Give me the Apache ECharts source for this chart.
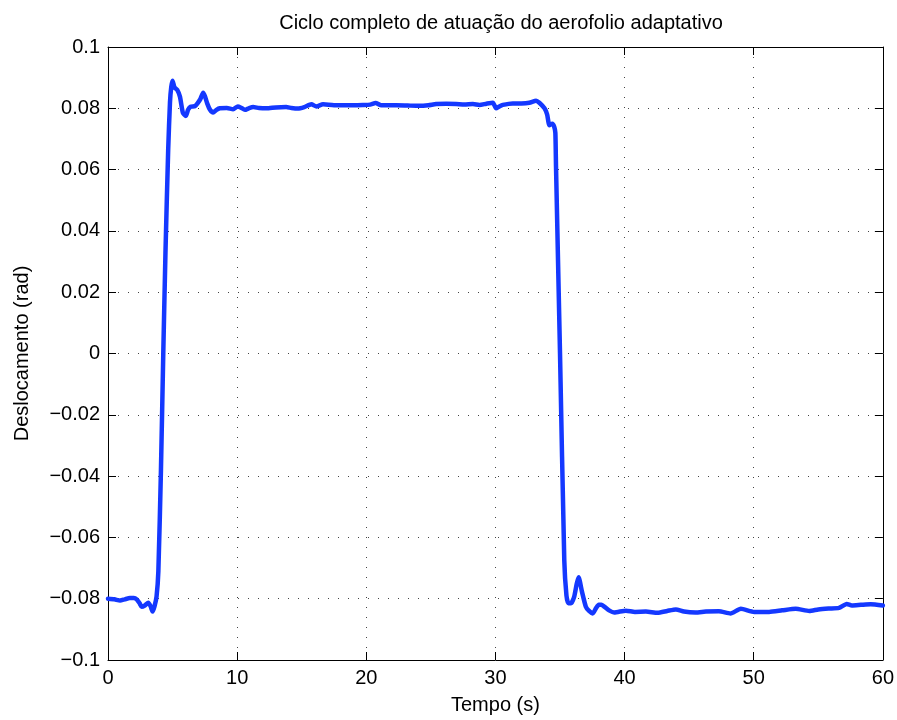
<!DOCTYPE html>
<html>
<head>
<meta charset="utf-8">
<script src="https://cdn.jsdelivr.net/npm/echarts@6/dist/echarts.min.js"></script>
<style>html,body{margin:0;padding:0;background:#fff}#c{width:897px;height:720px}</style>
</head>
<body>
<div id="c"></div>
<script>
const titleText = 'Ciclo completo de atuação do aerofolio adaptativo';
const xLabel = 'Tempo (s)';
const yLabel = 'Deslocamento (rad)';
const xTicks = [0, 10, 20, 30, 40, 50, 60];
const yTicks = [-0.1, -0.08, -0.06, -0.04, -0.02, 0, 0.02, 0.04, 0.06, 0.08, 0.1];

const time = [0, 0.5, 0.93, 1.3, 1.7, 2.0, 2.22, 2.45, 2.6, 2.85, 3.12, 3.3, 3.45, 3.6, 3.76, 3.9, 4.1, 4.28, 4.45, 4.66, 4.8, 4.9, 5.0, 5.15, 5.36, 5.57, 5.8, 6.03, 6.2, 6.39, 6.73, 6.93, 7.15, 7.37, 7.5, 7.68, 7.9, 8.14, 8.4, 8.66, 9.2, 9.69, 10.05, 10.3, 10.6, 10.9, 11.24, 11.7, 12.27, 13.0, 13.8, 14.2, 14.7, 15.2, 15.75, 16.14, 16.65, 17.5, 18.45, 19.74, 20.3, 20.72, 21.16, 22.32, 23.2, 24.1, 24.8, 25.41, 26.2, 26.96, 27.6, 28.25, 28.76, 29.3, 29.8, 30.05, 30.3, 30.57, 31.34, 32.0, 32.63, 33.15, 33.4, 33.8, 34.0, 34.18, 34.4, 34.55, 34.64, 34.69, 35.0, 35.33, 35.5, 35.65, 35.85, 36.1, 36.3, 36.44, 36.7, 37.0, 37.25, 37.53, 37.8, 38.0, 38.2, 38.43, 38.8, 39.2, 40.1, 40.8, 41.65, 42.55, 43.3, 43.97, 44.6, 45.5, 46.3, 47.3, 48.2, 49.0, 50.03, 51.19, 52.2, 53.25, 54.3, 55.0, 55.8, 56.6, 57.2, 57.6, 58.3, 59.05, 60];
const displacement = [-0.0800, -0.0802, -0.0806, -0.0802, -0.0798, -0.0798, -0.0802, -0.0815, -0.0826, -0.0822, -0.0813, -0.0825, -0.0842, -0.0825, -0.0793, -0.0710, -0.0380, 0.0000, 0.0330, 0.0664, 0.0820, 0.0870, 0.0890, 0.0868, 0.0860, 0.0838, 0.0785, 0.0775, 0.0795, 0.0805, 0.0807, 0.0816, 0.0830, 0.0851, 0.0840, 0.0816, 0.0795, 0.0786, 0.0795, 0.0800, 0.0801, 0.0797, 0.0806, 0.0802, 0.0795, 0.0800, 0.0804, 0.0801, 0.0800, 0.0803, 0.0804, 0.0801, 0.0799, 0.0804, 0.0813, 0.0806, 0.0813, 0.0810, 0.0810, 0.0811, 0.0812, 0.0817, 0.0810, 0.0810, 0.0809, 0.0808, 0.0810, 0.0814, 0.0815, 0.0814, 0.0812, 0.0814, 0.0811, 0.0815, 0.0818, 0.0800, 0.0806, 0.0811, 0.0816, 0.0816, 0.0818, 0.0825, 0.0818, 0.0800, 0.0780, 0.0745, 0.0750, 0.0740, 0.0720, 0.0610, 0.0000, -0.0674, -0.0790, -0.0815, -0.0815, -0.0793, -0.0750, -0.0730, -0.0777, -0.0826, -0.0840, -0.0848, -0.0830, -0.0820, -0.0820, -0.0826, -0.0838, -0.0845, -0.0839, -0.0843, -0.0842, -0.0846, -0.0840, -0.0835, -0.0842, -0.0845, -0.0842, -0.0841, -0.0848, -0.0833, -0.0843, -0.0843, -0.0838, -0.0833, -0.0840, -0.0835, -0.0832, -0.0830, -0.0817, -0.0822, -0.0820, -0.0818, -0.0822];

const FONT = '"Liberation Sans", Arial, Helvetica, sans-serif';
const FS = 20;
const fmtY = v => {
  const r = Math.round(v * 100) / 100;
  return (r === 0 ? '0' : String(r)).replace('-', '\u2212');
};
const fmtX = v => String(v);

const chart = echarts.init(document.getElementById('c'), null, {renderer: 'canvas'});
const lineAxis = () => ({
  axisLine: {show: true, onZero: false, lineStyle: {color: '#000', width: 1}},
  axisTick: {show: true, inside: true, length: 8, lineStyle: {color: '#000', width: 1}},
});
const gridLine = {show: true, lineStyle: {color: '#444', width: 1, type: [1, 9]}};
chart.setOption({
  animation: false,
  backgroundColor: '#fff',
  title: {
    text: titleText, left: 496, top: 8, textAlign: 'center',
    textStyle: {fontFamily: FONT, fontSize: FS, fontWeight: 'normal', color: '#000'}
  },
  grid: {left: 108, right: 13, top: 47, bottom: 60, containLabel: false},
  xAxis: [
    Object.assign(lineAxis(), {
      type: 'value', min: 0, max: 60, interval: 10, position: 'bottom',
      name: xLabel, nameLocation: 'middle', nameGap: 35,
      nameTextStyle: {fontFamily: FONT, fontSize: FS, color: '#000'},
      axisLabel: {fontFamily: FONT, fontSize: FS, color: '#000', margin: 8, formatter: fmtX},
      splitLine: gridLine
    }),
    Object.assign(lineAxis(), {
      type: 'value', min: 0, max: 60, interval: 10, position: 'top',
      axisLabel: {show: false}, splitLine: {show: false}
    })
  ],
  yAxis: [
    Object.assign(lineAxis(), {
      type: 'value', min: -0.1, max: 0.1, interval: 0.02, position: 'left',
      name: yLabel, nameLocation: 'middle', nameGap: 76, nameRotate: 90,
      nameTextStyle: {fontFamily: FONT, fontSize: FS, color: '#000'},
      axisLabel: {fontFamily: FONT, fontSize: FS, color: '#000', margin: 8, formatter: fmtY},
      splitLine: gridLine
    }),
    Object.assign(lineAxis(), {
      type: 'value', min: -0.1, max: 0.1, interval: 0.02, position: 'right',
      axisLabel: {show: false}, splitLine: {show: false}
    })
  ],
  series: [{
    type: 'line', xAxisIndex: 0, yAxisIndex: 0,
    data: time.map((t, i) => [t, displacement[i]]),
    showSymbol: false, symbol: 'none', smooth: 0.2,
    lineStyle: {color: '#1438ff', width: 4.5, join: 'round', cap: 'round'},
    clip: true
  }]
});
</script>
</body>
</html>
